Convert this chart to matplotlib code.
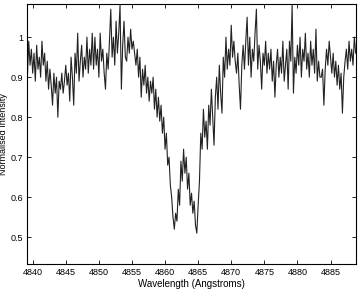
import numpy as np
import matplotlib
matplotlib.use('Agg')
import matplotlib.pyplot as plt

# wavelength grid (Angstroms) and normalised flux
wave = np.round(np.arange(4839.2, 4888.81, 0.2), 1)
flux = [
    # 4839.2 - 4844.0
    0.90, 0.99, 0.93, 0.97, 0.91, 0.96, 0.89, 0.98, 0.92, 0.95,
    0.90, 0.99, 0.93, 0.96, 0.89, 0.94, 0.87, 0.92, 0.88, 0.83,
    0.91, 0.86, 0.90, 0.80, 0.89,
    # 4844.2 - 4849.0
    0.87, 0.91, 0.86, 0.89, 0.93, 0.88, 0.91, 0.84, 0.95, 0.90,
    0.83, 0.96, 0.91, 1.01, 0.89, 0.94, 0.98, 0.90, 0.95, 0.92,
    1.00, 0.91, 0.97, 0.93, 1.01,
    # 4849.2 - 4854.0
    0.92, 1.00, 0.93, 0.97, 0.90, 1.01, 0.94, 0.97, 0.91, 0.87,
    0.96, 0.92, 0.99, 1.07, 0.95, 1.00, 0.93, 1.04, 0.96, 1.01,
    1.08, 0.87, 0.98, 1.04, 0.95,
    # 4854.2 - 4859.0
    0.94, 1.00, 0.96, 1.02, 0.97, 0.99, 0.96, 0.93, 0.97, 0.90,
    0.95, 0.85, 0.92, 0.88, 0.93, 0.86, 0.90, 0.84, 0.89, 0.86,
    0.90, 0.82, 0.87, 0.80, 0.85,
    # 4859.2 - 4864.0
    0.79, 0.83, 0.76, 0.80, 0.72, 0.76, 0.68, 0.70, 0.63, 0.60,
    0.55, 0.52, 0.56, 0.54, 0.62, 0.58, 0.69, 0.64, 0.72, 0.66,
    0.70, 0.62, 0.66, 0.58, 0.61,
    # 4864.2 - 4869.0
    0.56, 0.59, 0.53, 0.51, 0.58, 0.64, 0.76, 0.72, 0.82, 0.75,
    0.79, 0.72, 0.83, 0.78, 0.87, 0.80, 0.73, 0.85, 0.90, 0.82,
    0.93, 0.86, 0.81, 0.95, 0.90,
    # 4869.2 - 4874.0
    1.00, 0.92, 0.97, 0.93, 1.03, 0.95, 0.99, 0.94, 0.91, 0.96,
    0.88, 0.82, 0.93, 0.98, 0.92, 0.99, 1.05, 0.93, 1.00, 0.90,
    0.97, 0.94, 1.01, 1.07, 0.92,
    # 4874.2 - 4879.0
    0.98, 0.94, 0.87, 0.96, 0.93, 0.99, 0.91, 0.96, 0.92, 0.97,
    0.89, 0.94, 0.85, 0.93, 0.97, 0.90, 0.95, 0.91, 0.99, 0.89,
    0.93, 0.97, 0.87, 0.99, 0.94,
    # 4879.2 - 4884.0
    1.08, 0.86, 0.95, 0.91, 0.98, 0.93, 1.00, 0.90, 0.97, 0.94,
    1.01, 0.92, 0.96, 0.90, 0.99, 0.93, 0.97, 0.91, 1.02, 0.89,
    0.94, 0.90, 0.90, 0.92, 0.83,
    # 4884.2 - 4888.8
    0.92, 0.97, 0.93, 0.99, 0.95, 0.91, 0.96, 0.90, 0.94, 0.88,
    0.93, 0.87, 0.91, 0.81, 0.90, 0.94, 0.97, 0.92, 0.99, 0.94,
    0.97, 0.93, 1.00, 0.96,
]
xticks = [4840, 4845, 4850, 4855, 4860, 4865, 4870, 4875, 4880, 4885]
yticks = [0.5, 0.6, 0.7, 0.8, 0.9, 1.0]
yticklabels = ['0.5', '0.6', '0.7', '0.8', '0.9', '1']

plt.rcParams['font.family'] = ['Liberation Sans', 'DejaVu Sans']
fig = plt.figure(figsize=(3.59, 2.89), dpi=100)
ax = fig.add_axes([0.0752, 0.0865, 0.9164, 0.8997])
ax.plot(wave[:len(flux)], flux, color='#222222', lw=0.8)
ax.set_xlim(4839.14, 4888.85)
ax.set_ylim(0.433, 1.083)
ax.set_xticks(xticks)
ax.set_yticks(yticks)
ax.set_yticklabels(yticklabels)
ax.tick_params(direction='in', top=True, right=True, labelsize=6.5,
               length=3, width=0.6, pad=3)
for s in ax.spines.values():
    s.set_linewidth(0.8)
ax.set_xlabel('Wavelength (Angstroms)', fontsize=7, labelpad=1)
ax.set_ylabel('Normalised Intensity', fontsize=6.5, labelpad=1.5)
fig.savefig('out.png', dpi=100)
